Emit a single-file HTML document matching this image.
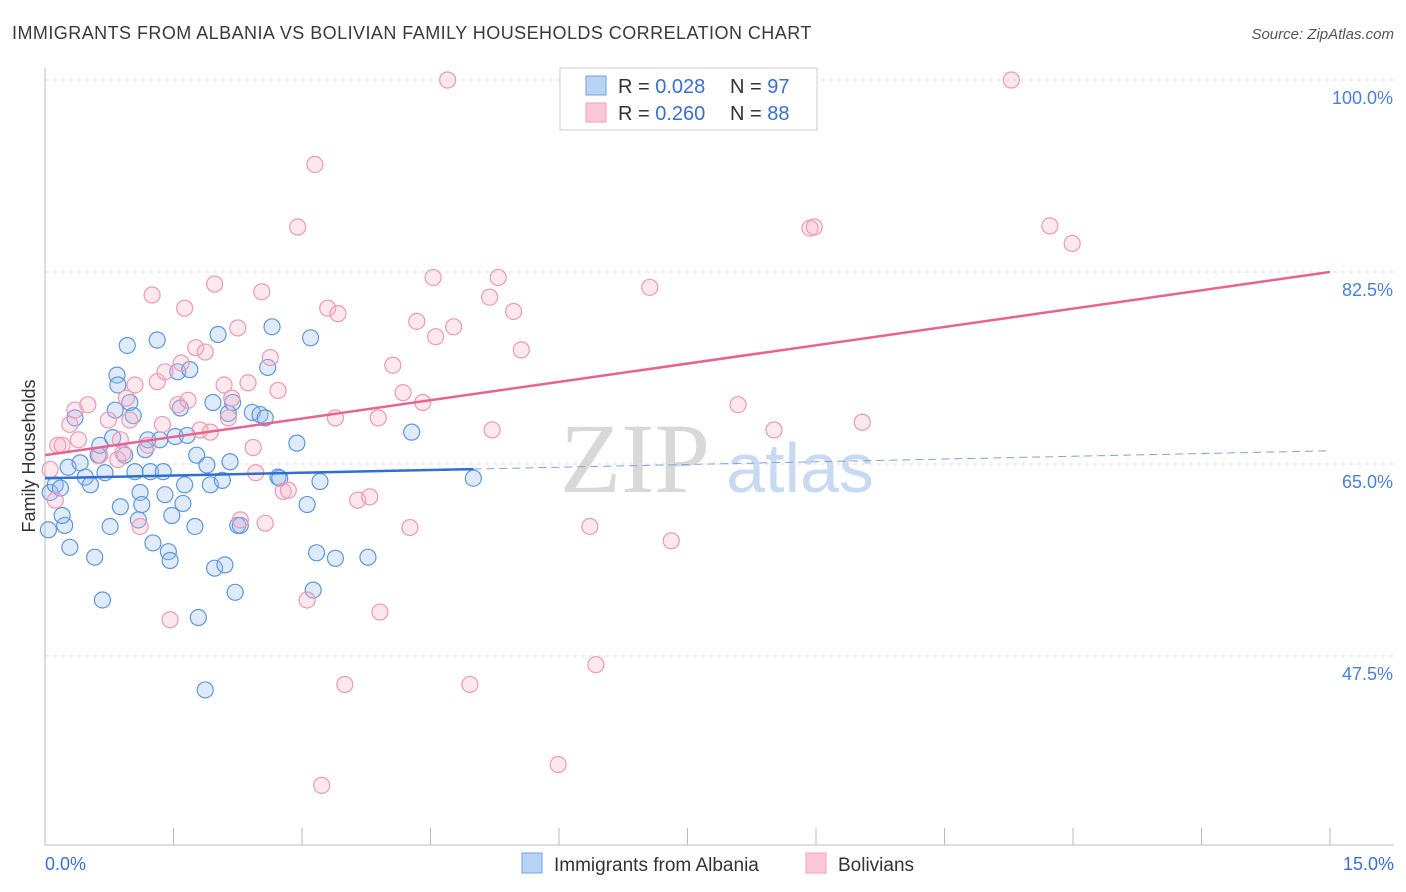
<!DOCTYPE html>
<html><head><meta charset="utf-8"><style>
body{margin:0;background:#fff;font-family:"Liberation Sans",sans-serif;}
#wrap{position:relative;width:1406px;height:892px;overflow:hidden;}
</style></head><body>
<div id="wrap">
<svg id="svg" width="1406" height="892" xmlns="http://www.w3.org/2000/svg">
<text x="12" y="39" font-size="18" fill="#3a3a3a" letter-spacing="0.45">IMMIGRANTS FROM ALBANIA VS BOLIVIAN FAMILY HOUSEHOLDS CORRELATION CHART</text>
<text x="1394" y="39" font-size="15" fill="#555" font-style="italic" text-anchor="end">Source: ZipAtlas.com</text>
<text x="635" y="492" font-size="100" fill="#d8d8d8" font-family="Liberation Serif" text-anchor="middle">ZIP</text>
<text x="800" y="492" font-size="70" fill="#c8daf2" text-anchor="middle">atlas</text>
<text transform="translate(35,456) rotate(-90)" font-size="18" fill="#333" text-anchor="middle">Family Households</text>
<g id="grid"></g><g id="axes"></g><g id="pts"></g><g id="lines"></g>
<g>
<rect x="560" y="68" width="257" height="62" fill="#fff" stroke="#ccc"/>
<rect x="586" y="76" width="20" height="19" fill="#b8d3f5" stroke="#6fa3e0"/>
<rect x="586" y="103" width="20" height="19" fill="#fcc8d8" stroke="#f0a0bb"/>
<text x="618" y="93" font-size="20" fill="#333">R = <tspan fill="#3a6fd0">0.028</tspan></text>
<text x="730" y="93" font-size="20" fill="#333">N = <tspan fill="#3a6fd0">97</tspan></text>
<text x="618" y="120" font-size="20" fill="#333">R = <tspan fill="#3a6fd0">0.260</tspan></text>
<text x="730" y="120" font-size="20" fill="#333">N = <tspan fill="#3a6fd0">88</tspan></text>
</g>
<g>
<rect x="522" y="853" width="20" height="20" fill="#b8d3f5" stroke="#6fa3e0"/>
<text x="554" y="871" font-size="19" fill="#333">Immigrants from Albania</text>
<rect x="806" y="853" width="20" height="20" fill="#fcc8d8" stroke="#f0a0bb"/>
<text x="838" y="871" font-size="19" fill="#333">Bolivians</text>
</g>
</svg>
</div>
<script>
const yTicks=[100,82.5,65,47.5];
const yTickLabels=["100.0%","82.5%","65.0%","47.5%"];
const xTickLabels=["0.0%","15.0%"];
const blueX=[0.04,0.06,0.12,0.18,0.23,0.2,0.29,0.27,0.35,0.41,0.47,0.53,0.58,0.62,0.64,0.67,0.7,0.76,0.79,0.82,0.84,0.85,0.88,0.93,0.96,0.99,1.03,1.05,1.09,1.11,1.13,1.17,1.2,1.23,1.26,1.31,1.34,1.38,1.4,1.44,1.46,1.48,1.52,1.55,1.58,1.61,1.63,1.66,1.69,1.75,1.77,1.79,1.87,1.89,1.93,1.96,1.98,2.02,2.07,2.1,2.14,2.16,2.19,2.22,2.25,2.28,2.42,2.51,2.57,2.6,2.65,2.72,2.74,2.94,3.06,3.1,3.13,3.17,3.21,3.39,3.77,4.28,5.0];
const blueY=[59.0,62.4,63.1,62.8,59.4,60.3,57.4,64.7,69.2,65.1,63.8,63.1,56.5,65.8,66.7,52.6,64.2,59.3,67.4,69.9,73.1,72.2,61.1,65.8,75.8,70.6,69.4,64.3,59.9,62.4,61.3,66.3,67.2,64.3,57.8,76.3,67.2,64.3,62.2,57.0,56.2,60.3,67.5,73.4,70.1,61.4,63.1,67.6,73.6,59.3,65.8,51.0,44.4,64.9,63.1,70.6,55.5,76.8,63.5,55.8,69.6,65.2,70.6,53.3,59.4,59.4,69.7,69.5,69.2,73.8,77.5,63.8,63.7,66.9,61.3,76.5,53.5,56.9,63.4,56.4,56.5,67.9,63.7];
const pinkX=[0.06,0.12,0.15,0.2,0.29,0.35,0.39,0.5,0.64,0.74,0.85,0.88,0.91,0.95,0.99,1.05,1.11,1.2,1.25,1.31,1.37,1.4,1.46,1.55,1.59,1.63,1.67,1.76,1.81,1.87,1.93,1.98,2.09,2.14,2.18,2.25,2.28,2.37,2.43,2.46,2.53,2.57,2.63,2.72,2.78,2.84,2.95,3.06,3.15,3.3,3.39,3.42,3.5,3.65,3.79,3.89,3.91,4.06,4.18,4.26,4.34,4.41,4.53,4.56,4.7,4.77,4.96,5.19,5.22,5.29,5.47,5.56,5.99,6.36,6.43,7.06,7.31,8.09,8.51,8.93,8.98,9.54,11.28,11.73,11.99,3.23];
const pinkY=[64.5,61.7,66.7,66.7,68.6,69.9,67.2,70.4,65.8,69.0,65.4,67.2,66.0,71.0,69.0,72.2,59.3,66.7,80.4,72.5,68.6,73.4,50.8,70.4,74.2,79.2,70.8,75.6,68.1,75.2,67.9,81.4,72.2,69.2,71.0,77.4,59.9,72.4,66.5,64.2,80.7,59.6,74.7,71.7,62.5,62.6,86.6,52.6,92.3,79.2,69.2,78.7,44.9,61.7,62.0,69.2,51.5,74.0,71.5,59.2,78.0,70.6,82.0,76.6,100.0,77.5,44.9,80.2,68.1,82.0,78.9,75.4,37.6,59.3,46.7,81.1,58.0,70.4,68.1,86.5,86.6,68.8,100.0,86.7,85.1,35.7];
const blueTrend=[63.7,66.2];
const pinkTrend=[65.8,82.5];
const NS="http://www.w3.org/2000/svg";
function sx(v){return 45+v/15*1285;}
function sy(v){return 80+(100-v)*10.97;}
function mk(tag,attrs,parent){const e=document.createElementNS(NS,tag);for(const k in attrs)e.setAttribute(k,attrs[k]);parent.appendChild(e);return e;}
const grid=document.getElementById('grid'),axes=document.getElementById('axes'),pts=document.getElementById('pts'),lines=document.getElementById('lines');
yTicks.forEach((t,i)=>{
 const l=mk('line',{x1:45,x2:1394,y1:sy(t),y2:sy(t),stroke:'#ddd','stroke-dasharray':'4,4'},grid);
 
 
 const tx=mk('text',{x:1393,y:sy(t)+24,'font-size':18,fill:'#4a7fd8','text-anchor':'end'},axes);
 tx.textContent=yTickLabels[i];
 
 
});
mk('line',{x1:45,x2:45,y1:68,y2:845,stroke:'#bbb'},axes);
mk('line',{x1:45,x2:1394,y1:845,y2:845,stroke:'#bbb'},axes);
for(let i=0;i<=10;i++){mk('line',{x1:sx(i*1.5),x2:sx(i*1.5),y1:828,y2:845,stroke:'#bbb'},axes);}
const xl0=mk('text',{x:45,y:870,'font-size':18,fill:'#3a6fd0'},axes);xl0.textContent=xTickLabels[0];


const xl1=mk('text',{x:1394,y:870,'font-size':18,fill:'#3a6fd0','text-anchor':'end'},axes);xl1.textContent=xTickLabels[1];


blueX.forEach((x,i)=>{
 const c=mk('circle',{cx:sx(x),cy:sy(blueY[i]),r:8,fill:'rgba(150,190,240,0.3)',stroke:'#5e97de','stroke-width':1.2},pts);
 
 
});
pinkX.forEach((x,i)=>{
 const c=mk('circle',{cx:sx(x),cy:sy(pinkY[i]),r:8,fill:'rgba(250,180,200,0.3)',stroke:'#ee98b4','stroke-width':1.2},pts);
 
 
});
const bAt=x=>blueTrend[0]+(blueTrend[1]-blueTrend[0])*x/15;
const b1=mk('line',{x1:sx(0),y1:sy(bAt(0)),x2:sx(5),y2:sy(bAt(5)),stroke:'#2f6fd0','stroke-width':2.5},lines);


const b2=mk('line',{x1:sx(5),y1:sy(bAt(5)),x2:sx(15),y2:sy(bAt(15)),stroke:'#7aa3dd','stroke-width':1,'stroke-dasharray':'8,5'},lines);


const p1=mk('line',{x1:sx(0),y1:sy(pinkTrend[0]),x2:sx(15),y2:sy(pinkTrend[1]),stroke:'#e8638e','stroke-width':2.5},lines);


</script>
</body></html>
